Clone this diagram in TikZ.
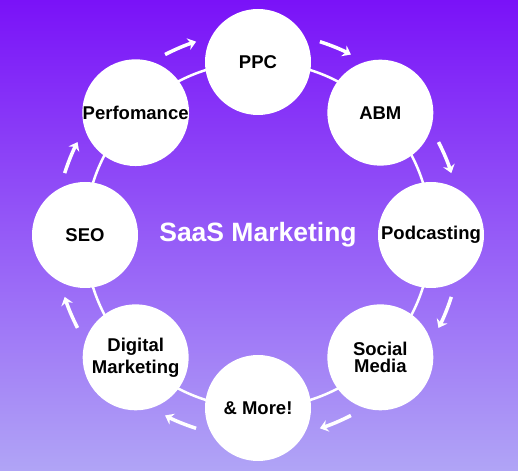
\documentclass[tikz,border=0pt]{standalone}
\usepackage{fontspec}
\setmainfont{Liberation Sans}
\usetikzlibrary{arrows.meta}
\definecolor{topviolet}{RGB}{122,18,248}
\definecolor{bottomviolet}{RGB}{176,164,246}

\tikzset{
  topic/.style={circle, fill=white, minimum size=106pt, inner sep=0pt, align=center,
    text=black, font=\bfseries\fontsize{18.5}{22}\selectfont},
  flow/.style={white, line width=3.5pt, -{Stealth[length=8pt,width=12pt]}}
}

\begin{document}
\begin{tikzpicture}[x=1pt,y=1pt]
\shade[top color=topviolet, bottom color=bottomviolet] (0,0) rectangle (518,470);
\useasboundingbox (0,0) rectangle (518,470);

\coordinate (c) at (258,235);
\draw[white, line width=2.5pt] (c) circle (173);

\node[topic] (ppc) at ([shift={(90:173)}]c) {PPC};
\node[topic] (abm) at ([shift={(45:173)}]c) {ABM};
\node[topic] (pod) at ([shift={(0:173)}]c) {Podcasting};
\node[topic, font=\bfseries\fontsize{18.5}{17}\selectfont] (soc) at ([shift={(-45:173)}]c) {Social\\Media};
\node[topic] (more) at ([shift={(-90:173)}]c) {\& More!};
\node[topic] (dig) at ([shift={(-135:173)}]c) {Digital\\Marketing};
\node[topic] (seo) at ([shift={(180:173)}]c) {SEO};
\node[topic] (perf) at ([shift={(135:173)}]c) {Perfomance};

\node[text=white, font=\bfseries\fontsize{26.5}{26.5}\selectfont] (title) at (c) {SaaS Marketing};

% clockwise arrows between the topics
\foreach \a [evaluate=\a as \s using \a+4.75, evaluate=\a as \e using \a-4.75] in {22.5,67.5,...,337.5}
  \draw[flow] ([shift={(\s:203)}]c) arc[start angle=\s, end angle=\e, radius=203];
\end{tikzpicture}
\end{document}
